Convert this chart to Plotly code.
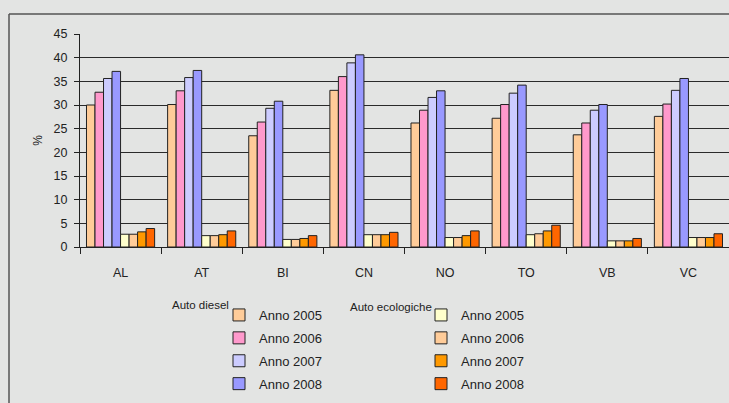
import plotly.graph_objects as go

categories = ["AL", "AT", "BI", "CN", "NO", "TO", "VB", "VC"]
years = ["Anno 2005", "Anno 2006", "Anno 2007", "Anno 2008"]

diesel_2005 = [30.0, 30.1, 23.5, 33.1, 26.2, 27.2, 23.7, 27.6]
diesel_2006 = [32.7, 33.0, 26.4, 36.0, 28.9, 30.1, 26.2, 30.2]
diesel_2007 = [35.6, 35.8, 29.3, 38.9, 31.6, 32.5, 28.9, 33.1]
diesel_2008 = [37.1, 37.3, 30.8, 40.6, 33.0, 34.2, 30.1, 35.6]

eco_2005 = [2.7, 2.4, 1.6, 2.6, 2.0, 2.6, 1.3, 2.0]
eco_2006 = [2.7, 2.4, 1.6, 2.6, 2.0, 2.8, 1.3, 2.0]
eco_2007 = [3.2, 2.6, 1.8, 2.6, 2.4, 3.4, 1.3, 2.0]
eco_2008 = [3.9, 3.4, 2.4, 3.1, 3.4, 4.6, 1.8, 2.8]

diesel_series = [diesel_2005, diesel_2006, diesel_2007, diesel_2008]
eco_series = [eco_2005, eco_2006, eco_2007, eco_2008]
diesel_colors = ["#FFCC99", "#FF99CC", "#CCCCFF", "#9999FF"]
eco_colors = ["#FFFFCC", "#FFCC99", "#FF9900", "#FF6600"]

FONT = "Liberation Sans, Arial, sans-serif"
BG = "#e3e4e3"

fig = go.Figure()
for i, (vals, col) in enumerate(zip(diesel_series, diesel_colors)):
    fig.add_trace(go.Bar(x=categories, y=vals, name=years[i], marker=dict(color=col, line=dict(color="#222222", width=1)),
                         legend="legend", legendgroup="d%d" % i))
for i, (vals, col) in enumerate(zip(eco_series, eco_colors)):
    fig.add_trace(go.Bar(x=categories, y=vals, name=years[i], marker=dict(color=col, line=dict(color="#222222", width=1)),
                         legend="legend2", legendgroup="e%d" % i))

W, H = 729, 403
ml, mr, mt, mb = 80, 0, 34, 156
pw, ph = W - ml - mr, H - mt - mb

def px(x):
    return (x - ml) / pw

def py(y):
    return (H - mb - y) / ph

fig.update_layout(
    width=W, height=H,
    margin=dict(l=ml, r=mr, t=mt, b=mb, autoexpand=False),
    paper_bgcolor=BG, plot_bgcolor=BG,
    barmode="group", bargap=0.16, bargroupgap=0,
    font=dict(family=FONT, color="#222222", size=12),
    xaxis=dict(type="category", tickson="boundaries", ticks="outside", ticklen=6, tickcolor="#222222",
               showline=True, linecolor="#222222", linewidth=1, showgrid=False,
               tickfont=dict(size=12.5), ticklabelstandoff=14),
    yaxis=dict(range=[0, 45], dtick=5, ticks="outside", ticklen=5, tickcolor="#222222",
               showline=True, linecolor="#222222", linewidth=1,
               showgrid=True, gridcolor="#2a2a2a", gridwidth=1, zeroline=False,
               tickfont=dict(size=12.5), ticklabelstandoff=4,
               title=dict(text="%", standoff=8, font=dict(size=12))),
    legend=dict(x=px(219), y=py(300), xanchor="left", yanchor="top", bgcolor="rgba(0,0,0,0)",
                font=dict(size=13), tracegroupgap=3, traceorder="grouped"),
    legend2=dict(x=px(421), y=py(300), xanchor="left", yanchor="top", bgcolor="rgba(0,0,0,0)",
                 font=dict(size=13), tracegroupgap=3, traceorder="grouped"),
    annotations=[
        dict(text="Auto diesel", x=px(200), y=py(305), xref="paper", yref="paper", showarrow=False,
             font=dict(size=11.5), xanchor="center", yanchor="middle"),
        dict(text="Auto ecologiche", x=px(391), y=py(307), xref="paper", yref="paper", showarrow=False,
             font=dict(size=11.5), xanchor="center", yanchor="middle"),
    ],
    shapes=[
        dict(type="line", xref="paper", yref="paper", x0=px(9), x1=px(9), y0=py(14), y1=py(410),
             line=dict(color="#555555", width=1.5)),
        dict(type="line", xref="paper", yref="paper", x0=px(9), x1=px(735), y0=py(14), y1=py(14),
             line=dict(color="#555555", width=1.5)),
    ],
)

fig.write_html("out.html", config={"displayModeBar": False},
               post_script="document.body.style.margin='0';document.body.style.background='%s';" % BG)
